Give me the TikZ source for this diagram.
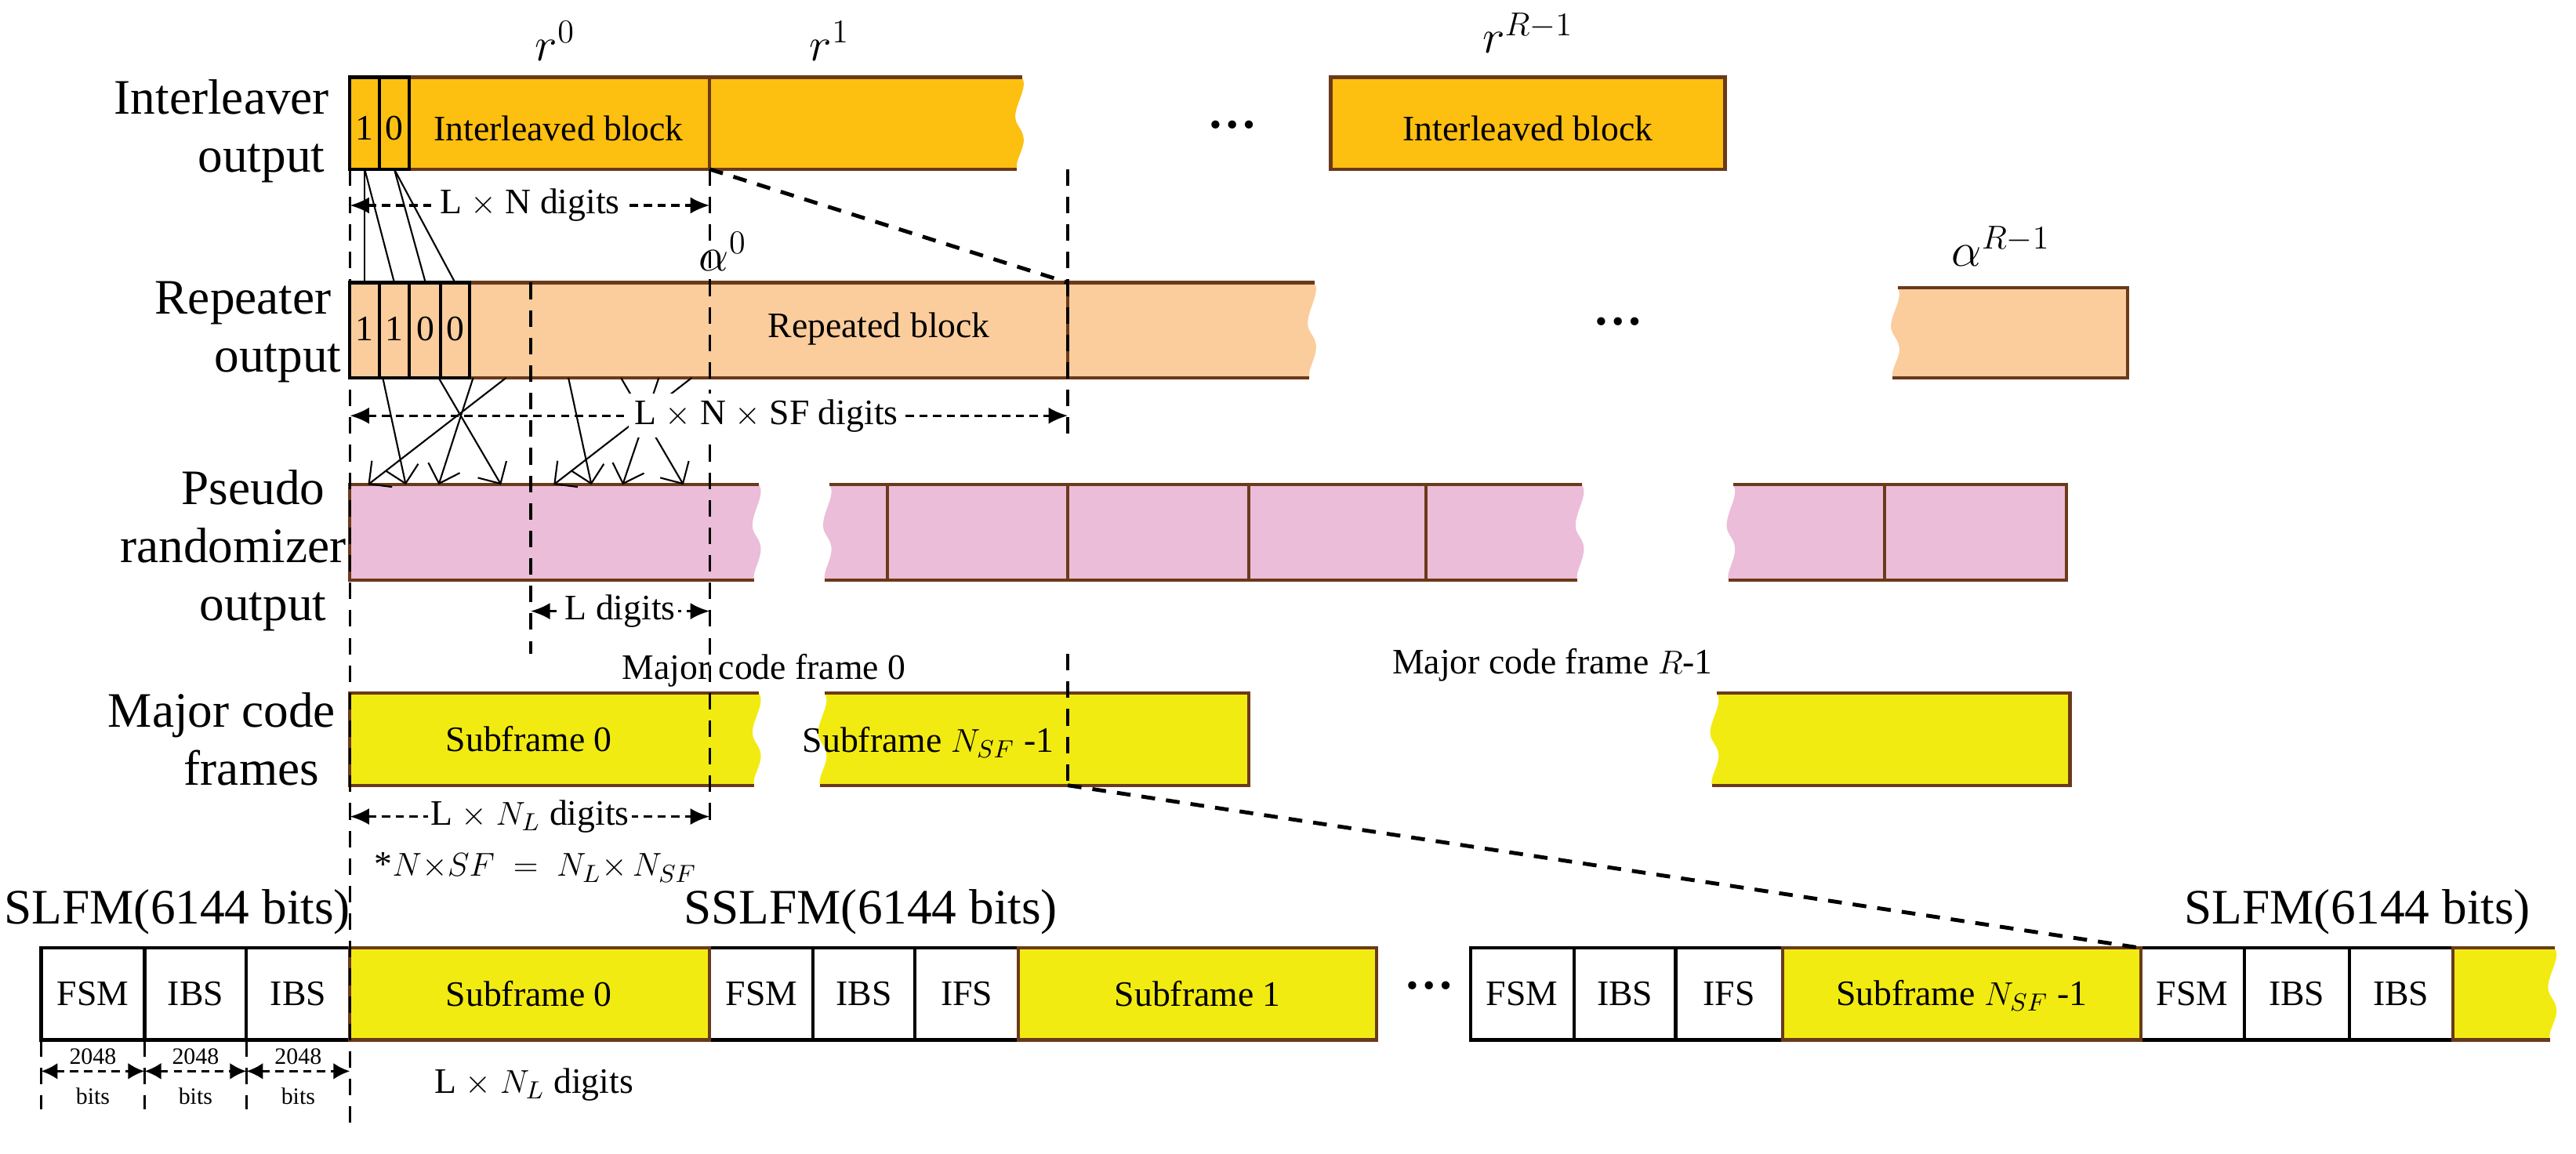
\documentclass[tikz,border=0pt]{standalone}
\usepackage{fontspec}
\setmainfont{Liberation Serif}
\usetikzlibrary{arrows.meta}
\definecolor{brn}{HTML}{6B3A1A}
\definecolor{org}{HTML}{FDBF10}
\definecolor{pch}{HTML}{FBCD9C}
\definecolor{pnk}{HTML}{EBBDD8}
\definecolor{ylw}{HTML}{F2EB11}
\tikzset{
 lab/.style={font=\fontsize{18}{21}\selectfont, align=center},
 txt/.style={font=\fontsize{13}{15}\selectfont},
 sm/.style={font=\fontsize{8.5}{9}\selectfont, align=center, inner sep=1pt},
 bx/.style={draw=brn, line width=1.2pt},
 bk/.style={draw=black, line width=1.2pt},
 dim/.style={densely dashed, {Latex[length=7pt,width=6pt]}-{Latex[length=7pt,width=6pt]}, line width=0.9pt},
 vd/.style={line width=1pt, dash pattern=on 6pt off 4pt},
 ln/.style={line width=0.6pt},
 ar/.style={line width=0.6pt, -{Straight Barb[length=6pt]}},
 wt/.style={fill=white, inner sep=2pt}
}
% right-torn strip: x1 x2 y1 y2 colour
\newcommand\myTornR[5]{%
 \fill[#5] (#1,#3) -- (#2,#3) .. controls ({#2+4},{#3+6}) and ({#2-4},{#3+16}) .. ({#2-4},{(#3+#4)/2-4}) .. controls ({#2-4},{(#3+#4)/2+2}) and ({#2+2},{(#3+#4)/2+4}) .. ({#2+1},{(#3+#4)/2+12}) .. controls ({#2},{#4-10}) and ({#2-4},{#4-5}) .. ({#2-3},#4) -- (#1,#4) -- cycle;
 \draw[bx] (#2,#3) -- (#1,#3) -- (#1,#4) -- ({#2-3},#4);}
% left-torn strip
\newcommand\myTornL[5]{%
 \fill[#5] (#2,#3) -- (#1,#3) .. controls ({#1+4},{#3+6}) and ({#1-4},{#3+16}) .. ({#1-4},{(#3+#4)/2-4}) .. controls ({#1-4},{(#3+#4)/2+2}) and ({#1+2},{(#3+#4)/2+4}) .. ({#1+1},{(#3+#4)/2+12}) .. controls ({#1},{#4-10}) and ({#1-4},{#4-5}) .. ({#1-3},#4) -- (#2,#4) -- cycle;
 \draw[bx] (#1,#3) -- (#2,#3) -- (#2,#4) -- ({#1-3},#4);}
\begin{document}
\begin{tikzpicture}[x=0.020957cm,y=-0.020957cm]
\useasboundingbox (0,0) rectangle (1568,702);
% ---------- row 1: interleaver ----------
\node[lab] (l1) at (135,80) {Interleaver\\\hspace*{1.6em}output};
\myTornR{213}{622}{47}{103}{org}
\draw[bx] (432,47) -- (432,103);
\draw[bk,fill=org] (213,47) rectangle (231,103);
\draw[bk,fill=org] (231,47) rectangle (249,103);
\node[txt] (i1) at (222,78) {1};
\node[txt] (i0) at (240,78) {0};
\node[txt] (ib) at (340,78) {Interleaved block};
\node[lab] (r0) at (338,25) {$r^0$};
\node[lab] (r1) at (505,25) {$r^1$};
\node[lab] (d1) at (750,76) {\textbf{\dots}};
\draw[bx,fill=org] (810,47) rectangle (1050,103);
\node[txt] (ib2) at (930,78) {Interleaved block};
\node[lab] (rR) at (930,20) {$r^{R\mathrm{-}1}$};
% ---------- row 2: repeater ----------
\node[lab] (l2) at (148,202) {Repeater\\\hspace*{1.4em}output};
\myTornR{213}{800}{172}{230}{pch}
\draw[bx] (650,172) -- (650,230);
\foreach \a/\b in {213/231,231/249,249/268,268/286} \draw[bk,fill=pch] (\a,172) rectangle (\b,230);
\node[txt] (p1) at (222,200) {1};
\node[txt] (p2) at (240,200) {1};
\node[txt] (p3) at (259,200) {0};
\node[txt] (p4) at (277,200) {0};
\node[txt] (rb) at (535,200) {Repeated block};
\node[lab] (a0) at (440,153) {$\alpha^0$};
\node[lab] (d2) at (985,196) {\textbf{\dots}};
\myTornL{1155}{1295}{175}{230}{pch}
\node[lab] (aR) at (1218,150) {$\alpha^{R\mathrm{-}1}$};
% ---------- row 3: pseudo randomizer ----------
\node[lab] (l3) at (142,335) {\hspace*{0.8em}Pseudo\\randomizer\\\hspace*{1.2em}output};
\myTornR{213}{462}{295}{353}{pnk}
\myTornL{505}{540}{295}{353}{pnk}
\foreach \a/\b in {540/650,650/760,760/868} \draw[bx,fill=pnk] (\a,295) rectangle (\b,353);
\myTornR{868}{963}{295}{353}{pnk}
\myTornL{1055}{1147}{295}{353}{pnk}
\draw[bx,fill=pnk] (1147,295) rectangle (1258,353);
% ---------- row 4: major code frames ----------
\node[lab] (l4) at (135,450) {Major code\\\hspace*{1.2em}frames};
\myTornR{213}{462}{422}{478}{ylw}
\node[txt] (s0) at (322,450) {Subframe 0};
\myTornL{502}{760}{422}{478}{ylw}
\node[txt] (sn) at (565,452) {Subframe $N_{SF}$ -1};
\node[txt] (m0) at (465,408) {Major code frame 0};
\node[txt] (mR) at (945,405) {Major code frame $R$-1};
\myTornL{1045}{1260}{422}{478}{ylw}
% ---------- row 5 ----------
\node[lab] (sl1) at (108,555) {SLFM(6144 bits)};
\node[lab] (ss) at (530,555) {SSLFM(6144 bits)};
\node[lab] (sl2) at (1435,555) {SLFM(6144 bits)};
\foreach \a/\b/\t/\n in {25/88/FSM/a1,88/150/IBS/a2,150/213/IBS/a3,432/495/FSM/b1,495/557/IBS/b2,557/620/IFS/b3,895/958/FSM/c1,958/1020/IBS/c2,1020/1085/IFS/c3,1303/1366/FSM/e1,1366/1430/IBS/e2,1430/1493/IBS/e3}
 {\draw[bk,fill=white] (\a,577) rectangle (\b,633); \node[txt] (\n) at ({(\a+\b)/2},605) {\t};}
\draw[bx,fill=ylw] (213,577) rectangle (432,633);
\node[txt] (f0) at (322,605) {Subframe 0};
\draw[bx,fill=ylw] (620,577) rectangle (838,633);
\node[txt] (f1) at (729,605) {Subframe 1};
\node[lab] (d3) at (870,600) {\textbf{\dots}};
\draw[bx,fill=ylw] (1085,577) rectangle (1303,633);
\node[txt] (fn) at (1194,606) {Subframe $N_{SF}$ -1};
\myTornR{1493}{1555}{577}{633}{ylw}
% ---------- dashed guides ----------
\draw[vd] (213,103) -- (213,690);
\draw[vd] (432,103) -- (432,505);
\draw[vd] (323,172) -- (323,398);
\draw[vd] (650,103) -- (650,265);
\draw[vd] (650,398) -- (650,478);
\foreach \x in {25,88,150} \draw[vd] (\x,633) -- (\x,675);
\coordinate (q1) at (432,103); \coordinate (q2) at (650,172);
\coordinate (q3) at (650,478); \coordinate (q4) at (1303,577);
\draw[vd,line width=1.4pt,dash pattern=on 5pt off 4pt] (q1) -- (q2);
\draw[vd,line width=1.4pt,dash pattern=on 5pt off 4pt] (q3) -- (q4);
% ---------- bit connections ----------
\foreach \a/\b in {222/222,222/240,240/259,240/277} \draw[ln] (\a,103) -- (\b,172);
\foreach \a/\b in {233/247,267/305,288/267,308/224,346/360,421/337,401/379,378/416} \draw[ar] (\a,230) -- (\b,295);
% ---------- dimensions ----------
\coordinate (u1) at (213,125); \coordinate (u2) at (432,125);
\draw[dim] (u1) -- (u2) node[midway,wt,txt] (t1) {L $\times$ N digits};
\coordinate (u3) at (213,253); \coordinate (u4) at (650,253);
\draw[dim] (u3) -- (u4) node[pos=0.58,wt,txt] (t2) {L $\times$ N $\times$ SF digits};
\coordinate (u5) at (323,372); \coordinate (u6) at (432,372);
\draw[dim] (u5) -- (u6) node[midway,wt,txt,inner sep=1pt] (t3) {L digits};
\coordinate (u7) at (213,497); \coordinate (u8) at (432,497);
\draw[dim] (u7) -- (u8) node[midway,wt,txt,inner sep=1pt] (t4) {L $\times$ $N_L$ digits};
\node[txt,anchor=west] (eq) at (222,528) {*$N{\times}SF \;=\; N_L{\times}\,N_{SF}$};
\foreach \a/\b/\n in {25/88/g1,88/150/g2,150/213/g3} {
 \coordinate (\n a) at (\a,652); \coordinate (\n b) at (\b,652);
 \draw[dim,{Latex[length=6pt,width=6pt]}-{Latex[length=6pt,width=6pt]}] (\n a) -- (\n b);
 \node[sm,fill=white] at ({(\a+\b)/2},643) {2048};
 \node[sm] (\n) at ({(\a+\b)/2},667) {bits};}
\node[txt] (t5) at (325,660) {L $\times$ $N_L$ digits};
\end{tikzpicture}
\end{document}
